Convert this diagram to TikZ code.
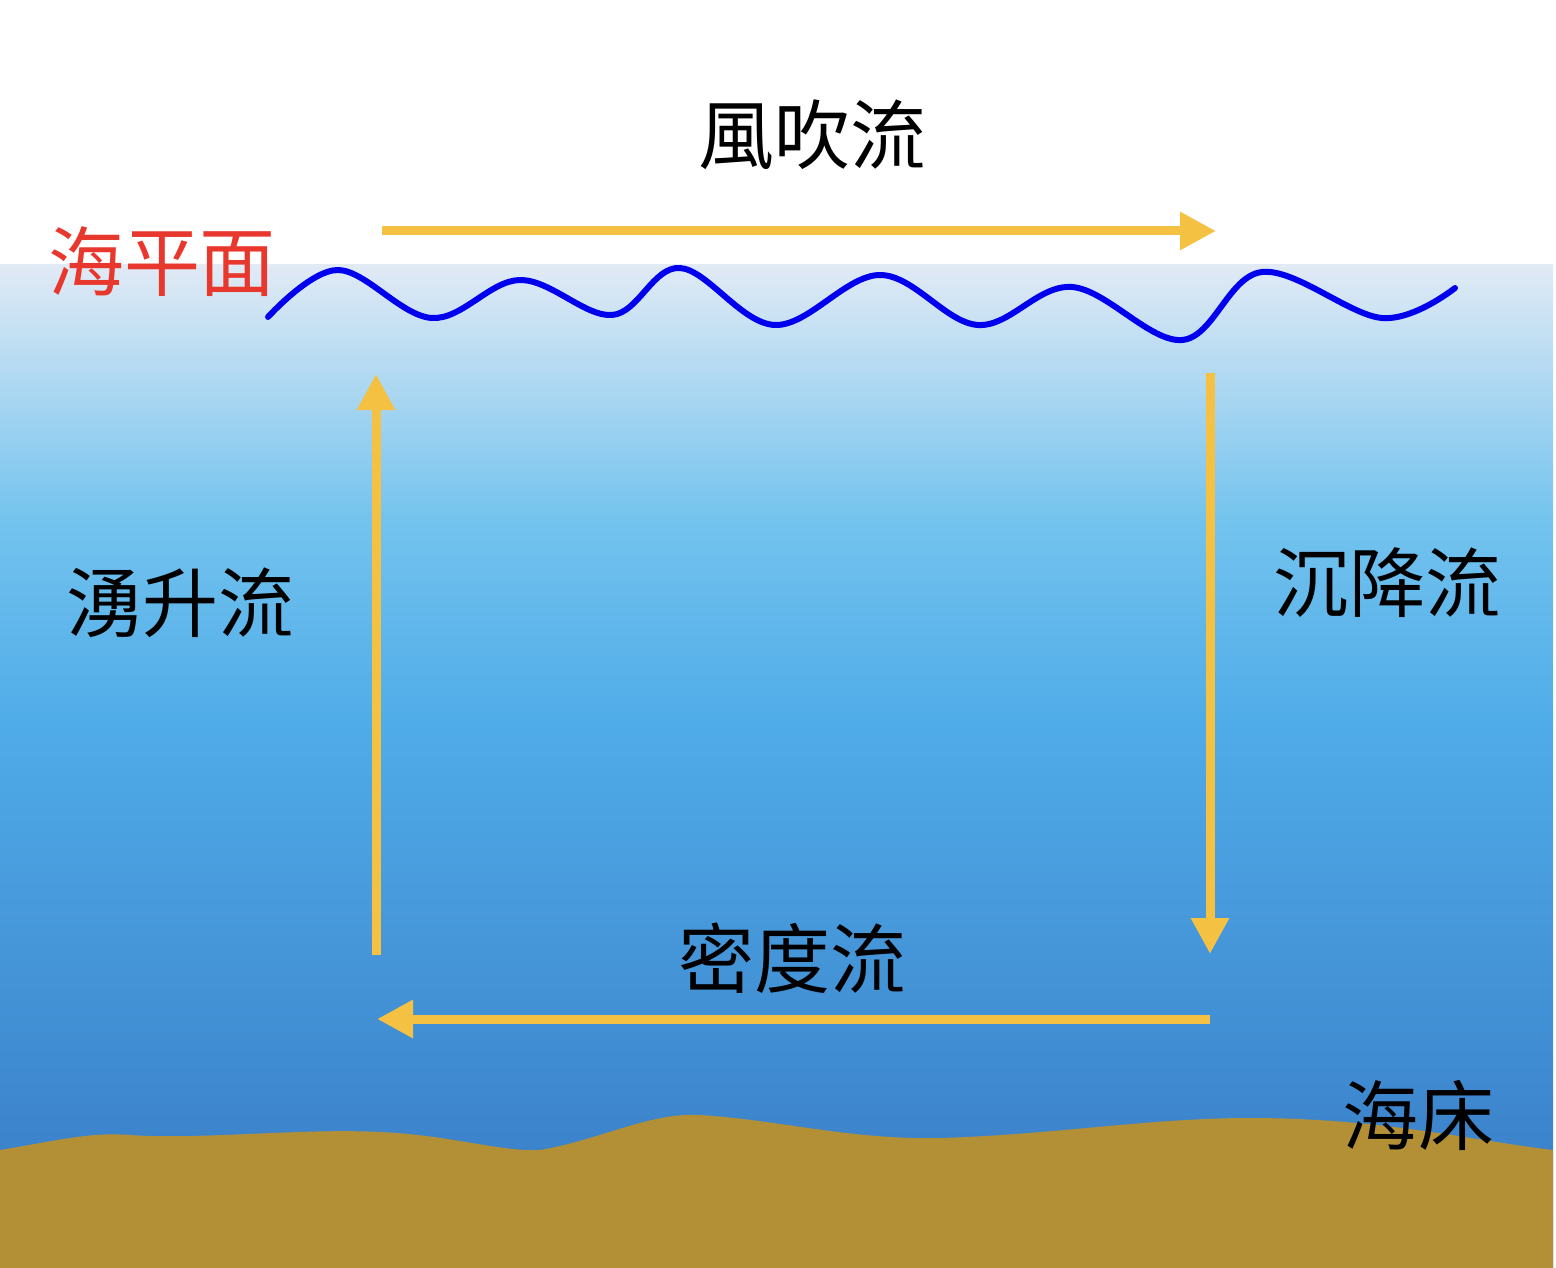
\documentclass[tikz,border=0pt]{standalone}
\usepackage{fontspec}
\newfontfamily\cjk{Noto Sans CJK TC}
\usetikzlibrary{arrows.meta}
\definecolor{arr}{HTML}{F4C143}
\definecolor{seabed}{HTML}{B38F35}
\definecolor{wavec}{HTML}{0000EE}
\definecolor{lbred}{HTML}{E8382D}
\tikzset{flow/.style={arr,line width=9pt,-{Triangle[length=36pt,width=36pt]}},
 lbl/.style={font=\cjk\fontsize{76}{90}\selectfont,inner sep=0pt}}
\begin{document}
\begin{tikzpicture}[x=1pt,y=1pt]
\useasboundingbox (0,0) rectangle (1556,-1268);
\shade[top color={rgb,255:red,225;green,234;blue,245}, bottom color={rgb,255:red,115;green,195;blue,238}] (0,-265) rectangle (1553,-520);
\shade[top color={rgb,255:red,115;green,195;blue,238}, bottom color={rgb,255:red,80;green,172;blue,232}] (0,-519) rectangle (1553,-720);
\shade[top color={rgb,255:red,80;green,172;blue,232}, bottom color={rgb,255:red,54;green,120;blue,196}] (0,-719) rectangle (1553,-1268);
\fill[seabed] (0,-1150) .. controls (60,-1140) and (90,-1132) .. (130,-1135) .. controls (200,-1140) and (300,-1128) .. (380,-1132) .. controls (450,-1135) and (500,-1152) .. (540,-1150) .. controls (600,-1140) and (650,-1112) .. (700,-1115) .. controls (780,-1120) and (850,-1140) .. (940,-1138) .. controls (1050,-1135) and (1150,-1118) .. (1250,-1118) .. controls (1380,-1118) and (1470,-1140) .. (1553,-1150) -- (1553,-1268) -- (0,-1268) -- cycle;
\draw[wavec,line width=6pt,line cap=round] plot[smooth,tension=0.6] coordinates {(268,-317) (338,-270) (432,-318) (520,-280) (612,-315) (680,-268) (775,-325) (880,-275) (978,-325) (1072,-287) (1182,-340) (1262,-272) (1382,-318) (1455,-288)};
\coordinate (t1) at (382,-231); \coordinate (t2) at (1216,-231);
\coordinate (r1) at (1210,-373); \coordinate (r2) at (1210,-954);
\coordinate (b1) at (1210,-1019); \coordinate (b2) at (377,-1019);
\coordinate (l1) at (376,-955); \coordinate (l2) at (376,-374);
\draw[flow] (t1) -- (t2);
\draw[flow] (r1) -- (r2);
\draw[flow] (b1) -- (b2);
\draw[flow] (l1) -- (l2);
\node[lbl] (wind) at (812,-135) {風吹流};
\node[lbl,lbred] (sea) at (162,-262) {海平面};
\node[lbl] (up) at (180,-603) {湧升流};
\node[lbl] (down) at (1387,-583) {沉降流};
\node[lbl] (dens) at (792,-958) {密度流};
\node[lbl] (bed) at (1418,-1115) {海床};
\end{tikzpicture}
\end{document}
